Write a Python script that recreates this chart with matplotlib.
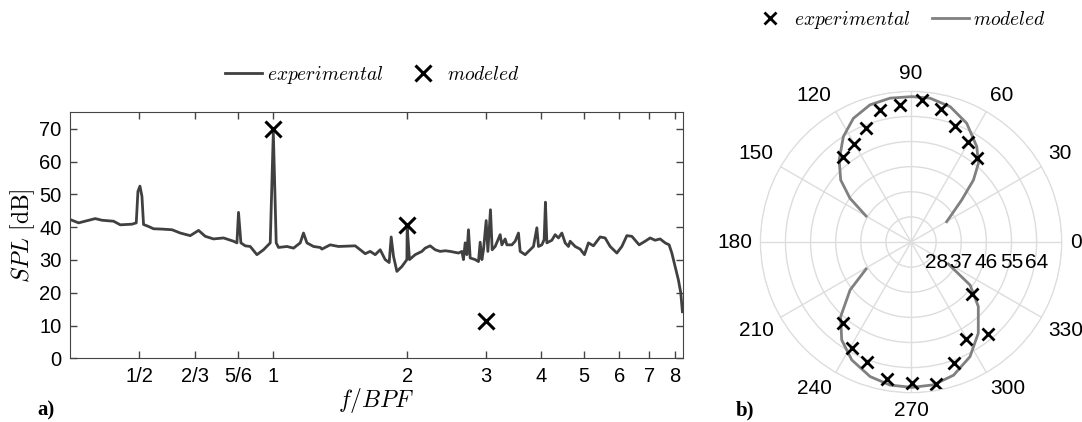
import matplotlib
matplotlib.use("Agg")
import matplotlib.pyplot as plt
import numpy as np

plt.rcParams["font.family"] = ["Liberation Sans", "DejaVu Sans"]
plt.rcParams["mathtext.fontset"] = "cm"

# ---- a) spectrum, f/BPF vs SPL [dB] ----
exp_f = [0.3494, 0.3649, 0.3978, 0.4118, 0.4374, 0.4528, 0.4811, 0.4918, 0.4961,
         0.5013, 0.5065, 0.5107, 0.5241, 0.5378, 0.5618, 0.5919, 0.6178, 0.6505,
         0.6790, 0.7029, 0.7338, 0.7728, 0.8138, 0.8283, 0.8351, 0.8455, 0.8647,
         0.8873, 0.9186, 0.9505, 0.9842, 1.0, 1.0151, 1.0273, 1.0730, 1.1103,
         1.1495, 1.1691, 1.1900, 1.2314, 1.2749, 1.2861, 1.3424, 1.4014, 1.5281,
         1.5682, 1.6093, 1.6514, 1.6947, 1.7390, 1.7846, 1.8220, 1.8410, 1.8631,
         1.8962, 1.9458, 1.9968, 2.0, 2.0238, 2.0844, 2.1580, 2.1953, 2.2528,
         2.3120, 2.3725, 2.4348, 2.4986, 2.6082, 2.6546, 2.6766, 2.7003, 2.7242,
         2.7469, 2.7712, 2.8439, 2.8929, 2.9185, 2.9443, 2.9689, 3.0105, 3.0371,
         3.0782, 3.1054, 3.1540, 3.2367, 3.2654, 3.3215, 3.3509, 3.4388, 3.4980,
         3.5583, 3.5897, 3.6840, 3.7475, 3.8457, 3.9140, 3.9467, 4.0164, 4.0645,
         4.0919, 4.1218, 4.2300, 4.3027, 4.3770, 4.4548, 4.5314, 4.6094, 4.6503,
         4.7721, 4.8972, 5.0073, 5.1122, 5.2462, 5.4312, 5.5737, 5.7198, 5.9222,
         6.0775, 6.2368, 6.3997, 6.6467, 6.8561, 7.0357, 7.2203, 7.4096, 7.6038,
         7.7628, 7.8722, 8.0072, 8.1450, 8.2468, 8.3151]
exp_spl = [42.3, 41.3, 42.6, 42.1, 41.8, 40.7, 40.9, 41.3, 50.9,
           52.5, 49.4, 40.8, 40.2, 39.5, 39.4, 39.2, 38.2, 37.4,
           39.0, 37.2, 36.4, 36.7, 35.7, 35.2, 44.5, 35.2, 34.3,
           34.1, 31.6, 33.1, 35.2, 69.0, 35.2, 33.8, 34.1, 33.6,
           35.2, 38.2, 35.2, 34.1, 33.8, 33.3, 34.6, 34.1, 34.3,
           33.1, 31.9, 32.6, 31.6, 33.1, 30.1, 29.2, 37.0, 31.1,
           26.5, 28.0, 30.1, 40.0, 30.1, 31.6, 32.6, 33.6, 34.3,
           33.1, 32.6, 32.8, 32.6, 32.1, 32.6, 30.1, 35.2, 31.6,
           39.2, 30.6, 30.1, 29.5, 35.4, 30.1, 33.1, 42.0, 32.6,
           45.3, 33.1, 34.1, 37.7, 34.6, 36.4, 34.6, 34.6, 35.7,
           38.2, 32.6, 31.6, 32.6, 34.1, 39.8, 34.1, 34.6, 36.2,
           47.6, 35.2, 36.0, 37.7, 36.7, 38.2, 35.2, 34.1, 35.7,
           34.1, 33.3, 31.6, 35.2, 34.3, 37.0, 36.7, 34.1, 32.1,
           34.1, 37.4, 37.2, 34.6, 35.7, 36.7, 36.0, 36.4, 35.2,
           34.6, 32.1, 28.0, 23.9, 19.9, 14.2]
mod_f = [1, 2, 3]
mod_spl = [70.0, 40.5, 11.5]

xtick_vals = [1/2, 2/3, 5/6, 1, 2, 3, 4, 5, 6, 7, 8]
xtick_labels = ["1/2", "2/3", "5/6", "1", "2", "3", "4", "5", "6", "7", "8"]

# ---- b) directivity ----
exp_theta = [85.7, 77.4, 69.2, 60.3, 51.6, 94.6, 103.2, 111.5, 120.1, 128.9,
             319.6, 309.7, 299.3, 289.8, 280.0, 270.3, 260.0, 250.1, 240.6, 230.0]
exp_r = [70.0, 67.7, 63.4, 60.4, 57.2, 68.2, 67.6, 63.1, 59.5, 58.0,
         47.7, 61.9, 58.9, 64.9, 70.5, 69.4, 68.9, 64.9, 62.4, 57.1]
model_theta_up = [29.7, 39.7, 44.8, 49.4, 55.4, 64.9, 73.9, 82.5, 89.7, 98.3,
                  106.7, 115.0, 122.7, 131.2, 138.6, 144.4, 150.0]
model_r_up = [33.7, 42.6, 50.5, 56.1, 60.5, 66.0, 69.5, 71.0, 71.1, 71.1,
              70.3, 67.9, 63.9, 58.1, 52.6, 45.9, 37.6]
model_theta_low = [211.0, 218.2, 226.7, 234.7, 243.3, 253.1, 261.6, 270.3, 278.9,
                   287.7, 297.2, 306.4, 316.2, 323.9, 329.5]
model_r_low = [37.8, 46.8, 55.8, 62.0, 66.3, 69.4, 70.8, 71.1, 70.8,
               69.1, 65.2, 59.6, 52.4, 45.2, 34.5]
r_ticks = [28, 37, 46, 55, 64]
r_max = 73
theta_ticks = list(range(0, 360, 30))

fig = plt.figure(figsize=(10.82, 4.22), dpi=100)

ax = fig.add_axes([0.0647, 0.1509, 0.5663, 0.5829])
ax.plot(exp_f, exp_spl, color="#404040", lw=2, label="$experimental$")
ax.plot(mod_f, mod_spl, ls="none", marker="x", ms=11, mew=2.2, color="black",
        label="$modeled$")
ax.set_xscale("log")
ax.set_xlim(0.349, 8.33)
ax.set_ylim(0, 75)
ax.set_xticks(xtick_vals)
ax.set_xticklabels(xtick_labels)
ax.minorticks_off()
ax.set_yticks(range(0, 71, 10))
ax.tick_params(direction="in", top=True, right=True, length=5, width=1,
               color="#444444", labelsize=14.5, pad=6)
for s in ax.spines.values():
    s.set_color("#444444")
ax.set_xlabel("$f/BPF$", fontsize=17, labelpad=0)
ax.set_ylabel(r"$SPL\ \mathrm{[dB]}$", fontsize=17, labelpad=2)
ax.legend(loc="center", bbox_to_anchor=(0.493, 1.152), ncol=2, frameon=False,
          fontsize=14, handlelength=1.9, handletextpad=0.25, columnspacing=1.1)
fig.text(0.035, 0.016, "a)", fontsize=15, fontweight="bold",
         family="Liberation Serif")

# polar
pax = fig.add_axes([0.7027, 0.0694, 0.2786, 0.7142], projection="polar")
pax.plot(np.deg2rad(model_theta_up), model_r_up, color="#808080", lw=2)
pax.plot(np.deg2rad(model_theta_low), model_r_low, color="#808080", lw=2,
         label="$modeled$")
pax.plot(np.deg2rad(exp_theta), exp_r, ls="none", marker="x", ms=8, mew=2,
         color="black", label="$experimental$")
pax.set_rlim(19, r_max)
pax.set_rticks(r_ticks + [r_max])
pax.set_yticklabels([])
pax.set_thetagrids(theta_ticks, [""] * len(theta_ticks))
pax.grid(color="#dddddd", lw=1)
pax.spines["polar"].set_color("#dddddd")

# angle labels sit just outside the rim, aligned by their near edge
gap = 8
for a in theta_ticks:
    c, s = np.cos(np.deg2rad(a)), np.sin(np.deg2rad(a))
    ha = "center" if abs(c) < 0.01 else ("left" if c > 0 else "right")
    va = "center" if abs(s) < 0.01 else ("bottom" if s > 0 else "top")
    pax.annotate(str(a), xy=(np.deg2rad(a), r_max), xytext=(gap * c, gap * s),
                 textcoords="offset pixels", ha=ha, va=va, fontsize=15,
                 annotation_clip=False)
for r in r_ticks:
    pax.annotate(str(r), xy=(0, r), xytext=(0, -20), textcoords="offset pixels",
                 ha="center", va="center", fontsize=15)
h, l = pax.get_legend_handles_labels()
pax.legend(h[::-1], l[::-1], loc="center", bbox_to_anchor=(0.46, 1.237), ncol=2,
           frameon=False, fontsize=14, handlelength=1.9, handletextpad=0.25,
           columnspacing=1.1)
fig.text(0.680, 0.016, "b)", fontsize=15, fontweight="bold",
         family="Liberation Serif")

fig.savefig("out.png", dpi=100)
